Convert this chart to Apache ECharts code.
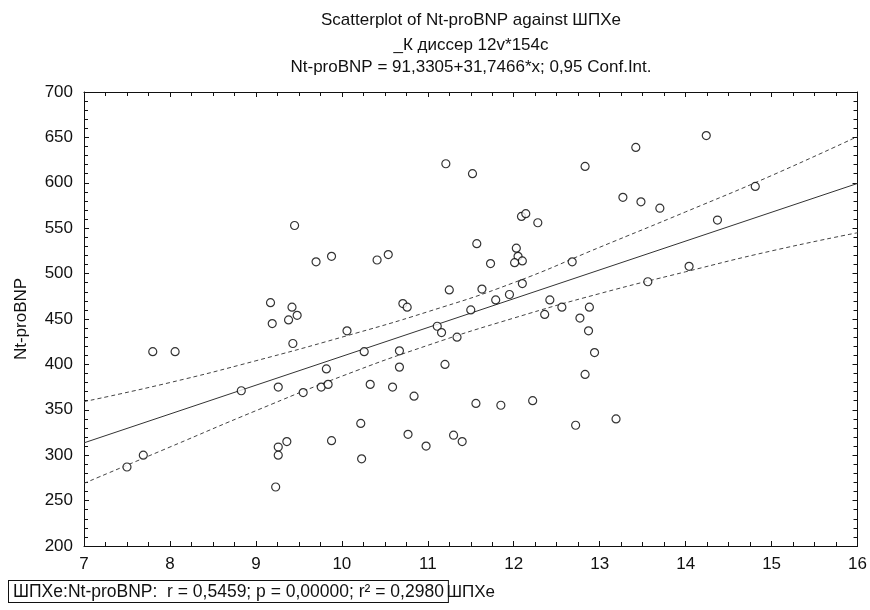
<!DOCTYPE html>
<html>
<head>
<meta charset="utf-8">
<script src="https://cdn.jsdelivr.net/npm/echarts@6/dist/echarts.min.js"></script>
<style>html,body{margin:0;padding:0;background:#fff}#c{width:870px;height:610px}</style>
</head>
<body>
<div id="c"></div>
<script>
// Scatter points [ШПХе, Nt-proBNP]
var pointsX = [9.70,9.88,10.41,9.17,9.42,9.38,9.48,9.19,10.06,9.43,7.80,8.06,10.26,9.82,8.83,9.26,9.55,9.76,9.84,10.33,10.22,9.88,9.36,9.26,9.26,7.69,7.50,10.23,9.23,9.45,
  11.21,11.52,12.83,12.09,12.14,12.28,11.57,12.03,12.05,12.10,12.01,11.73,12.68,10.54,11.25,11.63,12.10,11.95,11.79,12.42,11.50,10.71,10.76,12.56,12.88,12.36,12.77,11.11,11.16,11.34,12.87,
  10.67,12.94,10.67,11.20,12.83,10.59,10.84,11.56,11.85,12.22,13.19,12.72,10.77,11.30,11.40,10.98,
  13.42,14.24,13.27,13.48,13.70,14.81,14.37,14.04,13.56];
var pointsY = [513,519,515,468,463,449,454,445,437,423,414,414,414,395,371,375,369,375,378,378,335,316,315,309,300,300,287,296,265,553,
  621,610,618,563,566,556,533,528,519,514,512,511,513,521,482,483,489,477,471,471,460,467,463,463,463,455,451,442,435,430,437,
  415,413,397,400,389,375,365,357,355,360,340,333,323,322,315,310,
  639,652,584,579,572,596,559,508,491];
// Regression line endpoints and 0.95 confidence band
var fitX = [7, 16];
var fitY = [313.6, 599.3];
var bandX = [7, 8, 9, 10, 11, 12, 13, 14, 15, 16];
var bandUpper = [359, 380, 404, 430, 458, 490, 529, 568, 608, 651];
var bandLower = [269, 309, 349, 387, 421, 451, 478, 502, 525, 545];
var xTicks = [7, 16, 1];
var yTicks = [200, 700, 50];
var titleLines = ['Scatterplot of Nt-proBNP against ШПХе', '_К диссер 12v*154c', 'Nt-proBNP = 91,3305+31,7466*x; 0,95 Conf.Int.'];
var statsText = 'ШПХе:Nt-proBNP:  r = 0,5459; p = 0,00000; r² = 0,2980';

function zip(a, b) { return a.map(function (v, i) { return [v, b[i]]; }); }
var FONT = '"Liberation Sans", Arial, sans-serif';
var axCol = '#111';

var chart = echarts.init(document.getElementById('c'), null, {renderer: 'canvas'});
function axisCommon(showLabel) {
  return {
    axisLine: {show: true, onZero: false, lineStyle: {color: axCol, width: 1}},
    axisTick: {show: true, inside: true, length: 5, lineStyle: {color: axCol}},
    minorTick: {show: true, length: 4, lineStyle: {color: axCol}},
    splitLine: {show: false},
    axisLabel: {show: showLabel, color: '#111', fontSize: 17, fontFamily: FONT}
  };
}
var xa0 = Object.assign(axisCommon(true), {type: 'value', min: xTicks[0], max: xTicks[1], interval: xTicks[2], position: 'bottom',
  name: 'ШПХе', nameLocation: 'middle', nameGap: 38, nameTextStyle: {color: '#111', fontSize: 17, fontFamily: FONT}});
xa0.minorTick.splitNumber = 4; xa0.axisLabel.margin = 10;
var xa1 = Object.assign(axisCommon(false), {type: 'value', min: xTicks[0], max: xTicks[1], interval: xTicks[2], position: 'top'});
xa1.minorTick.splitNumber = 4;
var ya0 = Object.assign(axisCommon(true), {type: 'value', min: yTicks[0], max: yTicks[1], interval: yTicks[2], position: 'left',
  name: 'Nt-proBNP', nameLocation: 'middle', nameGap: 54, nameTextStyle: {color: '#111', fontSize: 17, fontFamily: FONT}});
ya0.minorTick.splitNumber = 5; ya0.axisLabel.margin = 11;
var ya1 = Object.assign(axisCommon(false), {type: 'value', min: yTicks[0], max: yTicks[1], interval: yTicks[2], position: 'right'});
ya1.minorTick.splitNumber = 5;

var titleY = [20, 45, 67];
var titleGraphics = titleLines.map(function (t, i) {
  return {type: 'text', x: 471, y: titleY[i], style: {text: t, align: 'center', verticalAlign: 'middle', fill: '#111', font: '17px ' + FONT}};
});

chart.setOption({
  backgroundColor: '#fff',
  animation: false,
  grid: {left: 84, right: 11, top: 92, bottom: 64, containLabel: false},
  xAxis: [xa0, xa1],
  yAxis: [ya0, ya1],
  graphic: titleGraphics.concat([
    {type: 'text', left: 8, top: 580, style: {text: statsText, fill: '#111', font: '17.5px ' + FONT, borderColor: '#111', borderWidth: 1, padding: [2, 4, 1, 4], backgroundColor: '#fff'}}
  ]),
  series: [
    {type: 'line', data: zip(bandX, bandUpper), symbol: 'none', smooth: true, lineStyle: {color: '#444', width: 1, type: [4, 3]}, z: 2},
    {type: 'line', data: zip(bandX, bandLower), symbol: 'none', smooth: true, lineStyle: {color: '#444', width: 1, type: [4, 3]}, z: 2},
    {type: 'line', data: zip(fitX, fitY), symbol: 'none', lineStyle: {color: '#333', width: 1}, z: 2},
    {type: 'scatter', data: zip(pointsX, pointsY), symbol: 'circle', symbolSize: 8,
      itemStyle: {color: '#fff', borderColor: '#000', borderWidth: 1.2}, z: 3}
  ]
});
</script>
</body>
</html>
